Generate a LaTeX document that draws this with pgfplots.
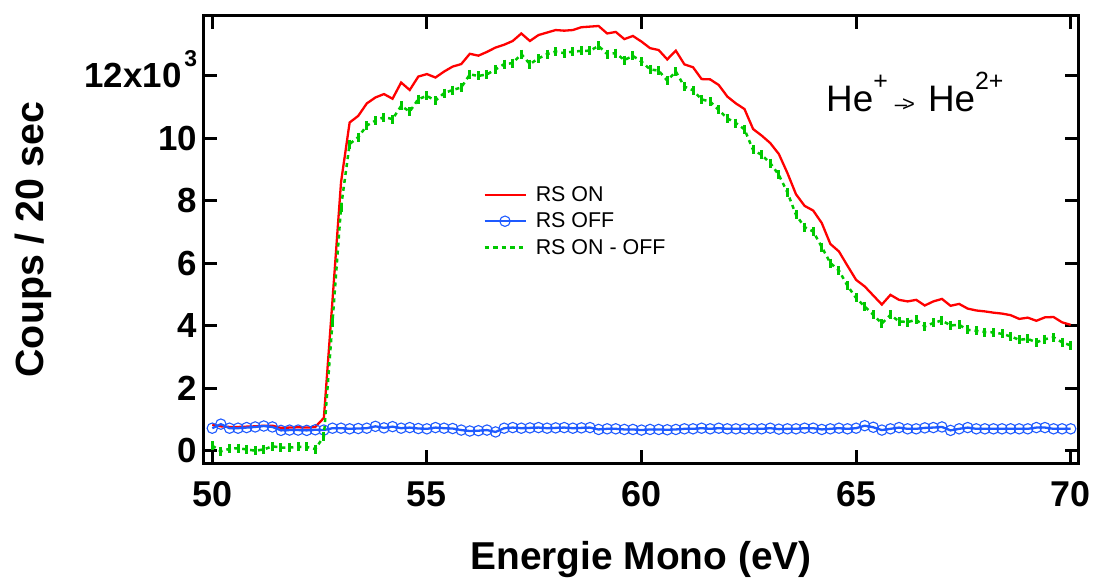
\documentclass[border=0pt]{standalone}
\usepackage{fontspec}
\setmainfont{Liberation Sans}
\usepackage{pgfplots}
\usepackage{pgfplotstable}
\pgfplotsset{compat=1.18}
\definecolor{cred}{RGB}{255,0,0}
\definecolor{cblue}{RGB}{30,90,255}
\definecolor{cgreen}{RGB}{0,200,0}
\pgfplotstableread{
x on off diff
50.0 0.83 0.72 0.16
50.2 0.78 0.85 -0.02
50.4 0.76 0.72 0.06
50.6 0.76 0.72 0.08
50.8 0.77 0.74 0.04
51.0 0.78 0.76 0.00
51.2 0.80 0.79 0.04
51.4 0.80 0.76 0.14
51.6 0.73 0.65 0.10
51.8 0.74 0.66 0.10
52.0 0.75 0.66 0.12
52.2 0.74 0.65 0.12
52.4 0.76 0.67 0.05
52.6 1.05 0.66 0.46
52.8 4.80 0.72 4.10
53.0 8.60 0.72 7.80
53.2 10.51 0.70 9.82
53.4 10.72 0.71 10.04
53.6 11.12 0.72 10.41
53.8 11.31 0.78 10.57
54.0 11.42 0.73 10.68
54.2 11.27 0.77 10.62
54.4 11.79 0.72 11.04
54.6 11.55 0.74 10.86
54.8 11.98 0.71 11.26
55.0 12.06 0.70 11.36
55.2 11.95 0.74 11.21
55.4 12.14 0.72 11.45
55.6 12.30 0.71 11.55
55.8 12.38 0.66 11.63
56.0 12.71 0.63 12.05
56.2 12.65 0.64 12.00
56.4 12.77 0.66 12.05
56.6 12.91 0.60 12.21
56.8 13.00 0.72 12.38
57.0 13.12 0.74 12.41
57.2 13.36 0.72 12.70
57.4 13.12 0.73 12.38
57.6 13.31 0.74 12.56
57.8 13.39 0.72 12.70
58.0 13.47 0.73 12.78
58.2 13.45 0.74 12.73
58.4 13.47 0.72 12.78
58.6 13.56 0.73 12.80
58.8 13.58 0.74 12.81
59.0 13.60 0.68 12.96
59.2 13.36 0.70 12.70
59.4 13.41 0.70 12.73
59.6 13.18 0.68 12.51
59.8 13.28 0.68 12.64
60.0 13.10 0.66 12.46
60.2 12.89 0.68 12.21
60.4 12.83 0.68 12.17
60.6 12.53 0.67 11.85
60.8 12.81 0.68 12.14
61.0 12.37 0.70 11.66
61.2 12.28 0.70 11.54
61.4 11.90 0.72 11.25
61.6 11.89 0.70 11.18
61.8 11.71 0.72 10.91
62.0 11.34 0.70 10.64
62.2 11.12 0.70 10.49
62.4 10.94 0.70 10.29
62.6 10.30 0.70 9.63
62.8 10.09 0.70 9.47
63.0 9.85 0.72 9.21
63.2 9.50 0.69 8.83
63.4 8.89 0.70 8.27
63.6 8.21 0.70 7.55
63.8 7.84 0.72 7.16
64.0 7.69 0.72 7.02
64.2 7.29 0.68 6.52
64.4 6.62 0.70 6.01
64.6 6.38 0.72 5.77
64.8 5.92 0.70 5.28
65.0 5.47 0.72 4.89
65.2 5.26 0.80 4.62
65.4 4.97 0.75 4.35
65.6 4.68 0.66 4.07
65.8 4.99 0.70 4.35
66.0 4.83 0.74 4.14
66.2 4.78 0.70 4.12
66.4 4.83 0.70 4.19
66.6 4.65 0.73 3.98
66.8 4.78 0.74 4.09
67.0 4.86 0.76 4.17
67.2 4.64 0.65 4.01
67.4 4.70 0.70 4.03
67.6 4.55 0.74 3.87
67.8 4.49 0.70 3.84
68.0 4.46 0.70 3.80
68.2 4.42 0.70 3.79
68.4 4.39 0.70 3.74
68.6 4.34 0.70 3.66
68.8 4.22 0.70 3.55
69.0 4.26 0.70 3.58
69.2 4.16 0.74 3.47
69.4 4.27 0.74 3.57
69.6 4.28 0.70 3.63
69.8 4.11 0.70 3.47
70.0 4.03 0.70 3.37
}\datatable
\begin{document}
\begin{tikzpicture}
\begin{axis}[
  name=ax,
  scale only axis,
  width=874.6bp, height=447.3bp,
  xmin=49.80, xmax=70.177,
  ymin=-0.404, ymax=13.92,
  xtick={50,55,60,65,70},
  ytick={0,2,4,6,8,10,12},
  yticklabels={0,2,4,6,8,10,{12x10\hspace{3bp}\smash{\raisebox{0.62em}{\fontsize{23}{23}\selectfont 3}}}},
  /pgf/number format/assume math mode=true,
  tick pos=both,
  tick align=inside,
  major tick length=13bp,
  minor tick num=0,
  every tick/.style={line width=3bp, black},
  axis line style={line width=3bp},
  xticklabel style={font=\bfseries\fontsize{36}{36}\selectfont, yshift=-15bp},
  yticklabel style={font=\bfseries\fontsize{35}{35}\selectfont, xshift=-3bp},
  xlabel={Energie Mono (eV)},
  ylabel={Coups / 20 sec},
  xlabel style={at={(rel axis cs:0.5,-0.2385)}, anchor=base, inner sep=0pt, font=\bfseries\fontsize{39}{39}\selectfont},
  ylabel style={at={(rel axis cs:-0.1837,0.5)}, anchor=base, inner sep=0pt, font=\bfseries\fontsize{39.5}{39.5}\selectfont},
  legend style={at={(rel axis cs:0.316,0.628)}, anchor=north west, draw=none, fill=none,
    font=\fontsize{21.5}{25}\selectfont, row sep=6bp},
  legend cell align=left,
  clip=true,
]
\addplot[cred, line width=2.3bp, legend image code/.code={\draw[cred, line width=2.3bp] (0bp,0bp) -- (41bp,0bp); \path (48bp,0bp);}]
  table[x=x, y=on] {\datatable};
\addlegendentry{RS ON}
\addplot[cblue, line width=2.3bp, mark=o, mark size=5.2bp, mark options={line width=1.1bp, solid},
  legend image code/.code={\draw[cblue, line width=2.3bp] (0bp,0bp) -- (41bp,0bp); \draw[cblue, line width=1.1bp] (20.5bp,0bp) circle (5.2bp); \path (48bp,0bp);}]
  table[x=x, y=off] {\datatable};
\addlegendentry{RS OFF}
\addplot[cgreen, line width=2.5bp, dash pattern=on 4bp off 4bp, mark=|, mark size=4.5bp, mark options={solid, line width=3bp},
  legend image code/.code={\draw[cgreen, line width=2.5bp, dash pattern=on 4.5bp off 4bp] (0bp,0bp) -- (39bp,0bp); \path (48bp,0bp);}]
  table[x=x, y=diff] {\datatable};
\addlegendentry{RS ON - OFF}
\node[anchor=base west, inner sep=0pt, font=\fontsize{37}{37}\selectfont] at (rel axis cs:0.7115,0.7854)
  {He\raisebox{0.6em}{\fontsize{25}{25}\selectfont +}\hspace{7bp}{\fontsize{22}{22}\selectfont –\kern-0.22em>}\hspace{13bp}He\raisebox{0.6em}{\fontsize{25}{25}\selectfont 2+}};
\end{axis}
\pgfresetboundingbox
\path (ax.south west) ++(-203.7bp,-115.7bp) rectangle ++(1093bp,579bp);
\end{tikzpicture}
\end{document}
